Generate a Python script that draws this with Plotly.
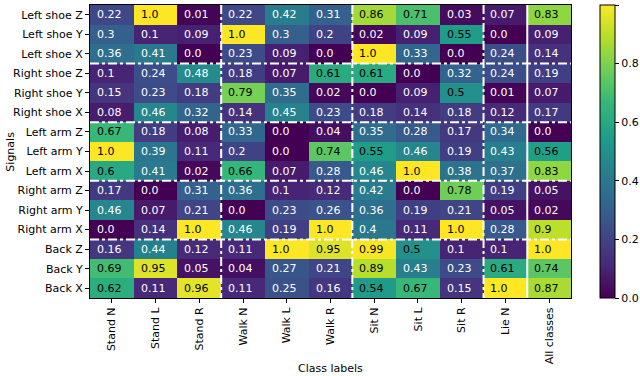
import plotly.graph_objects as go

classes = ["Stand N", "Stand L", "Stand R", "Walk N", "Walk L", "Walk R",
           "Sit N", "Sit L", "Sit R", "Lie N", "All classes"]
signals = ["Left shoe Z", "Left shoe Y", "Left shoe X",
           "Right shoe Z", "Right shoe Y", "Right shoe X",
           "Left arm Z", "Left arm Y", "Left arm X",
           "Right arm Z", "Right arm Y", "Right arm X",
           "Back Z", "Back Y", "Back X"]

left_shoe_z = [0.22, 1.0, 0.01, 0.22, 0.42, 0.31, 0.86, 0.71, 0.03, 0.07, 0.83]
left_shoe_y = [0.3, 0.1, 0.09, 1.0, 0.3, 0.2, 0.02, 0.09, 0.55, 0.0, 0.09]
left_shoe_x = [0.36, 0.41, 0.0, 0.23, 0.09, 0.0, 1.0, 0.33, 0.0, 0.24, 0.14]
right_shoe_z = [0.1, 0.24, 0.48, 0.18, 0.07, 0.61, 0.61, 0.0, 0.32, 0.24, 0.19]
right_shoe_y = [0.15, 0.23, 0.18, 0.79, 0.35, 0.02, 0.0, 0.09, 0.5, 0.01, 0.07]
right_shoe_x = [0.08, 0.46, 0.32, 0.14, 0.45, 0.23, 0.18, 0.14, 0.18, 0.12, 0.17]
left_arm_z = [0.67, 0.18, 0.08, 0.33, 0.0, 0.04, 0.35, 0.28, 0.17, 0.34, 0.0]
left_arm_y = [1.0, 0.39, 0.11, 0.2, 0.0, 0.74, 0.55, 0.46, 0.19, 0.43, 0.56]
left_arm_x = [0.6, 0.41, 0.02, 0.66, 0.07, 0.28, 0.46, 1.0, 0.38, 0.37, 0.83]
right_arm_z = [0.17, 0.0, 0.31, 0.36, 0.1, 0.12, 0.42, 0.0, 0.78, 0.19, 0.05]
right_arm_y = [0.46, 0.07, 0.21, 0.0, 0.23, 0.26, 0.36, 0.19, 0.21, 0.05, 0.02]
right_arm_x = [0.0, 0.14, 1.0, 0.46, 0.19, 1.0, 0.4, 0.11, 1.0, 0.28, 0.9]
back_z = [0.16, 0.44, 0.12, 0.11, 1.0, 0.95, 0.99, 0.5, 0.1, 0.1, 1.0]
back_y = [0.69, 0.95, 0.05, 0.04, 0.27, 0.21, 0.89, 0.43, 0.23, 0.61, 0.74]
back_x = [0.62, 0.11, 0.96, 0.11, 0.25, 0.16, 0.54, 0.67, 0.15, 1.0, 0.87]

z = [left_shoe_z, left_shoe_y, left_shoe_x,
     right_shoe_z, right_shoe_y, right_shoe_x,
     left_arm_z, left_arm_y, left_arm_x,
     right_arm_z, right_arm_y, right_arm_x,
     back_z, back_y, back_x]

# group boundaries (between cells)
row_breaks = [2.5, 5.5, 8.5, 11.5]
col_breaks = [2.5, 5.5, 8.5]
solid_col_break = 9.5

font = "DejaVu Sans"

fig = go.Figure(go.Heatmap(
    z=z,
    x=list(range(len(classes))),
    y=list(range(len(signals))),
    colorscale="Viridis",
    zmin=0, zmax=1,
    colorbar=dict(
        x=1.06, xanchor="left", y=0.5, yanchor="middle",
        len=1.0, thickness=15, xpad=0, ypad=0,
        outlinecolor="black", outlinewidth=1,
        ticks="outside", ticklen=4, tickcolor="black",
        tickvals=[0, 0.2, 0.4, 0.6, 0.8, 1.0], tickformat=".1f",
        tickfont=dict(family=font, size=11, color="black"),
    ),
))

# cell labels
for i, row in enumerate(z):
    for j, v in enumerate(row):
        fig.add_annotation(
            x=j, y=i, text=str(v), showarrow=False,
            xanchor="left", xshift=-17,
            font=dict(family=font, size=11,
                      color="black" if v >= 0.5 else "white"),
        )

for b in row_breaks:
    fig.add_shape(type="line", xref="x", yref="y",
                  x0=-0.5, x1=len(classes) - 0.5, y0=b, y1=b,
                  line=dict(color="white", width=2, dash="dashdot"))
for b in col_breaks:
    fig.add_shape(type="line", xref="x", yref="y",
                  x0=b, x1=b, y0=-0.5, y1=len(signals) - 0.5,
                  line=dict(color="white", width=2, dash="dashdot"))
fig.add_shape(type="line", xref="x", yref="y",
              x0=solid_col_break, x1=solid_col_break,
              y0=-0.5, y1=len(signals) - 0.5,
              line=dict(color="white", width=2))

fig.add_annotation(text="Class labels", xref="paper", yref="paper",
                   x=0.5, y=-0.239, yanchor="middle", showarrow=False,
                   font=dict(family=font, size=11, color="black"))
fig.add_annotation(text="Signals", xref="paper", yref="paper",
                   x=-0.166, y=0.5, xanchor="center", textangle=-90,
                   showarrow=False,
                   font=dict(family=font, size=11, color="black"))

fig.update_xaxes(
    tickvals=list(range(len(classes))), ticktext=classes, tickangle=-90,
    range=[-0.5, len(classes) - 0.5],
    ticks="outside", ticklen=4, tickcolor="black",
    showline=True, linecolor="black", linewidth=1, mirror=True,
    showgrid=False, zeroline=False,
    tickfont=dict(family=font, size=11, color="black"),
)
fig.update_yaxes(
    tickvals=list(range(len(signals))), ticktext=signals,
    range=[len(signals) - 0.5, -0.5],
    ticks="outside", ticklen=4, tickcolor="black",
    showline=True, linecolor="black", linewidth=1, mirror=True,
    showgrid=False, zeroline=False,
    tickfont=dict(family=font, size=11, color="black"),
)
fig.update_layout(
    width=640, height=376,
    margin=dict(l=90, r=69, t=5, b=78, autoexpand=False),
    plot_bgcolor="white", paper_bgcolor="white",
    showlegend=False,
)

fig.write_html("out.html", config={"displayModeBar": False},
               post_script="document.body.style.margin='0';")
